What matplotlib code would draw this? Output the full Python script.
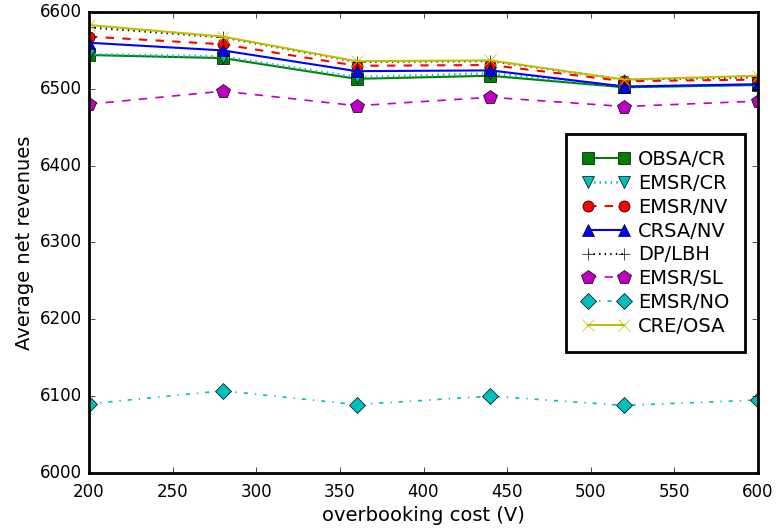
import matplotlib
matplotlib.use("Agg")
import matplotlib.pyplot as plt

plt.style.use('classic')

x = [200, 280, 360, 440, 520, 600]
obsa_cr = [6544, 6540, 6513, 6517, 6502, 6505]
emsr_cr = [6545, 6542, 6515, 6520, 6503, 6505]
emsr_nv = [6568, 6558, 6530, 6531, 6510, 6512]
crsa_nv = [6560, 6550, 6523, 6524, 6503, 6506]
dp_lbh = [6580, 6567, 6535, 6536, 6512, 6515]
emsr_sl = [6480, 6497, 6478, 6489, 6477, 6484]
emsr_no = [6090, 6107, 6089, 6100, 6088, 6095]
cre_osa = [6583, 6568, 6536, 6537, 6512, 6517]

fig = plt.figure(figsize=(7.78, 5.29), dpi=100, facecolor='white')
ax = fig.add_axes([89/778, 1-473/529, (758-89)/778, (473-12)/529])
for s in ax.spines.values():
    s.set_linewidth(2)

ms = 8
ax.plot(x, obsa_cr, 'gs-', ms=ms, lw=1.5, label='OBSA/CR')
ax.plot(x, emsr_cr, 'cv:', ms=ms, lw=2, label='EMSR/CR')
ax.plot(x, emsr_nv, 'ro--', ms=ms, lw=1.5, label='EMSR/NV')
ax.plot(x, crsa_nv, 'b^-', ms=ms, lw=1.5, label='CRSA/NV')
ax.plot(x, dp_lbh, 'k+:', ms=ms, lw=1.5, label='DP/LBH')
ax.plot(x, emsr_sl, 'mp--', ms=10, lw=1.2, label='EMSR/SL')
ax.plot(x, emsr_no, 'cD-.', ms=ms, lw=1.2, label='EMSR/NO')
ax.plot(x, cre_osa, 'yx-', ms=ms, lw=1.5, label='CRE/OSA')

ax.set_xlim(200, 600)
ax.set_ylim(6000, 6600)
ax.set_xlabel('overbooking cost (V)', fontsize=14, labelpad=4)
ax.set_ylabel('Average net revenues', fontsize=14, labelpad=4)
ax.tick_params(axis='x', labelsize=12, pad=7)
ax.tick_params(axis='y', labelsize=12, pad=5)
leg = ax.legend(loc='center right', numpoints=2, fontsize=14,
                bbox_to_anchor=(0.9806, 0.499), borderaxespad=0,
                labelspacing=0.25, borderpad=0.8, handlelength=2.5,
                handletextpad=0.4)
leg.get_frame().set_linewidth(2)
fig.savefig('out.png', dpi=100, facecolor='white')
